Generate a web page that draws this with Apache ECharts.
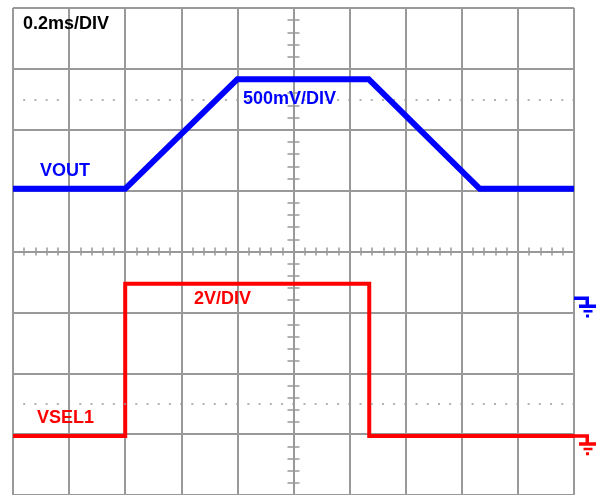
<!DOCTYPE html>
<html>
<head>
<meta charset="utf-8">
<script src="https://cdn.jsdelivr.net/npm/echarts@6/dist/echarts.min.js"></script>
<style>
  html, body { margin: 0; padding: 0; background: #fff; }
  #chart { width: 600px; height: 495px; }
</style>
</head>
<body>
<div id="chart"></div>
<script>
// scope capture: 0.2ms/DIV, trigger at centre of screen (t = 0)
var voutTime = [-1, -0.6, -0.2, 0.268, 0.664, 1];      // ms
var voutVolt = [0.9, 0.9, 1.8, 1.8, 0.9, 0.9];         // V, 500mV/DIV
var vselTime = [-1, -0.6, -0.6, 0.27, 0.27, 1];        // ms
var vselVolt = [0, 0, 5, 5, 0, 0];                     // V, 2V/DIV
var dotRows = [2.5, -2.5];                             // divisions from centre

var timeLabel = '0.2ms/DIV';
var voutName = 'VOUT', voutScale = '500mV/DIV';
var vselName = 'VSEL1', vselScale = '2V/DIV';

function pairs(xs, ys) {
  var out = [];
  for (var i = 0; i < xs.length; i++) out.push([xs[i], ys[i]]);
  return out;
}

var GREY = '#999';
var FONT = 'bold 18px "Liberation Sans", Arial, sans-serif';
// ground marker drawn at 0 V of each channel
var gnd = 'path://M0 0H15V3.5H0Z M11.5 0H15V9H11.5Z M5 8H22V11.5H5Z M9.5 13.5H18.5V16H9.5Z M12 18H15V21H12Z';
var hide = { show: false };

// axes only used for the little ticks along the centre cross
function tickX(pos) {
  return {
    type: 'value', min: -1, max: 1, interval: 0.2, position: pos,
    axisLine: { show: false, onZero: true, onZeroAxisIndex: 0 },
    axisTick: { show: true, length: 4, lineStyle: { color: GREY, width: 1.5 } },
    minorTick: { show: true, splitNumber: 5, length: 4, lineStyle: { color: GREY, width: 1.5 } },
    axisLabel: hide, splitLine: hide
  };
}
function tickY(pos) {
  return {
    type: 'value', min: -4, max: 4, interval: 1, position: pos,
    axisLine: { show: false, onZero: true, onZeroAxisIndex: 0 },
    axisTick: { show: true, length: 6, lineStyle: { color: GREY, width: 1.5 } },
    minorTick: { show: true, splitNumber: 5, length: 6, lineStyle: { color: GREY, width: 1.5 } },
    axisLabel: hide, splitLine: hide
  };
}

var chart = echarts.init(document.getElementById('chart'));
chart.setOption({
  animation: false,
  backgroundColor: '#fff',
  grid: { left: 13, right: 26, top: 8, height: 488.6 },
  xAxis: [
    {
      type: 'value', min: -1, max: 1, interval: 0.2,
      axisLine: hide, axisTick: hide, axisLabel: hide,
      splitLine: { show: true, lineStyle: { color: GREY, width: 2 } }
    },
    tickX('bottom'),
    tickX('top')
  ],
  yAxis: [
    {
      type: 'value', min: -4, max: 4, interval: 1,
      axisLine: { show: false, onZero: false }, axisTick: hide, axisLabel: hide,
      splitLine: { show: true, lineStyle: { color: GREY, width: 2 } }
    },
    tickY('left'),
    tickY('right'),
    { type: 'value', min: -1.615, max: 2.385, show: false, axisLine: { onZero: false } },
    { type: 'value', min: -1.94, max: 14.06, show: false, axisLine: { onZero: false } }
  ],
  series: [
    {
      type: 'line', xAxisIndex: 0, yAxisIndex: 0, data: [], silent: true,
      markLine: {
        silent: true, symbol: 'none', label: hide,
        lineStyle: { color: GREY, width: 1.5, type: [2, 9.21], dashOffset: 1 },
        data: dotRows.map(function (v) { return { yAxis: v }; })
      }
    },
    {
      name: voutName, type: 'line', xAxisIndex: 0, yAxisIndex: 3,
      data: pairs(voutTime, voutVolt), showSymbol: false, z: 5,
      lineStyle: { color: '#0000ff', width: 6, join: 'miter' },
      itemStyle: { color: '#0000ff' },
      markPoint: {
        silent: true, symbol: gnd, symbolSize: [22, 21], symbolOffset: [11, 8.75],
        label: hide, itemStyle: { color: '#0000ff' },
        data: [{ coord: [1, 0] }]
      }
    },
    {
      name: vselName, type: 'line', xAxisIndex: 0, yAxisIndex: 4,
      data: pairs(vselTime, vselVolt), showSymbol: false, z: 4,
      lineStyle: { color: '#ff0000', width: 4, join: 'miter' },
      itemStyle: { color: '#ff0000' },
      markPoint: {
        silent: true, symbol: gnd, symbolSize: [22, 21], symbolOffset: [11, 8.75],
        label: hide, itemStyle: { color: '#ff0000' },
        data: [{ coord: [1, 0] }]
      }
    }
  ],
  graphic: [
    { type: 'text', x: 23, y: 24.5, z: 100, style: { text: timeLabel, font: FONT, fill: '#000', verticalAlign: 'middle' } },
    { type: 'text', x: 243, y: 98.7, z: 100, style: { text: voutScale, font: FONT, fill: '#0000ff', verticalAlign: 'middle' } },
    { type: 'text', x: 40, y: 171, z: 100, style: { text: voutName, font: FONT, fill: '#0000ff', verticalAlign: 'middle' } },
    { type: 'text', x: 194, y: 299, z: 100, style: { text: vselScale, font: FONT, fill: '#ff0000', verticalAlign: 'middle' } },
    { type: 'text', x: 37, y: 418, z: 100, style: { text: vselName, font: FONT, fill: '#ff0000', verticalAlign: 'middle' } }
  ]
});
</script>
</body>
</html>
